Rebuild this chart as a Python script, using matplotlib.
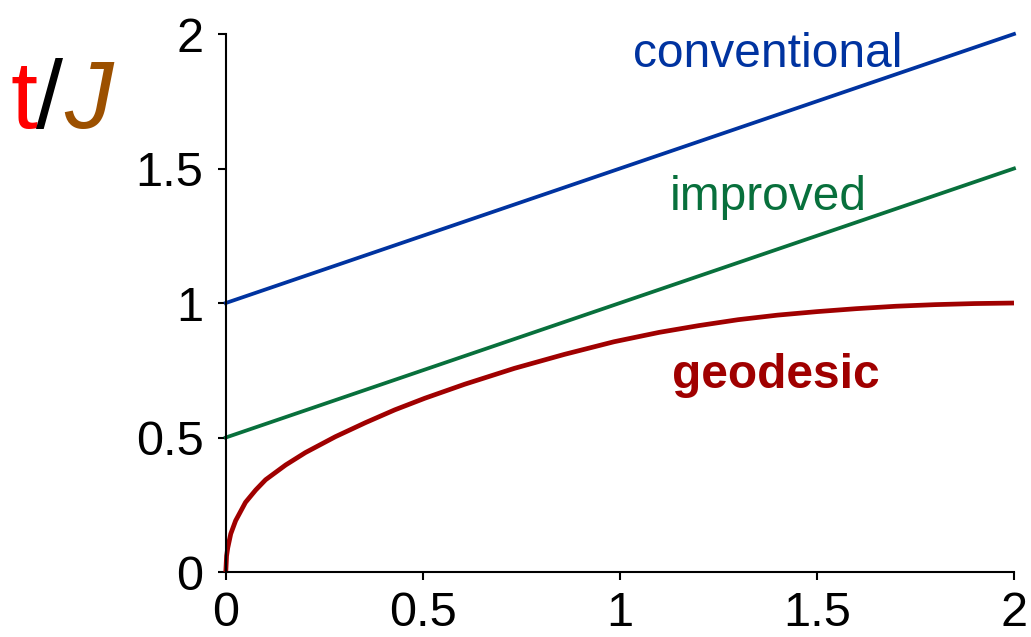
import matplotlib
matplotlib.use("Agg")
import matplotlib.pyplot as plt

plt.rcParams['font.family'] = ['Liberation Sans', 'DejaVu Sans']

# straight lines (read at the ends)
conv_x = [0, 2]
conv_y = [1.0, 2.0]
impr_x = [0, 2]
impr_y = [0.5, 1.5]

# geodesic curve
geo_x = [0, 0.002, 0.005, 0.0126, 0.025, 0.05, 0.076, 0.101, 0.152, 0.202,
         0.278, 0.354, 0.429, 0.505, 0.606, 0.732, 0.859, 0.985, 1.1, 1.2,
         1.3, 1.4, 1.5, 1.6, 1.7, 1.8, 1.9, 2.0]
geo_y = [0, 0.06, 0.09, 0.142, 0.191, 0.259, 0.305, 0.343, 0.398, 0.444,
         0.503, 0.555, 0.603, 0.646, 0.698, 0.757, 0.809, 0.856, 0.891, 0.916,
         0.938, 0.955, 0.968, 0.979, 0.988, 0.994, 0.998, 1.0]

ticks = [0, 0.5, 1, 1.5, 2]
tick_labels = ['0', '0.5', '1', '1.5', '2']

blue = '#0033a0'
green = '#08703c'
darkred = '#a00000'

fig = plt.figure(figsize=(10.31, 6.37), dpi=100)
ax = fig.add_axes([0.219, 0.102, 0.7645, 0.8446])

ax.plot(conv_x, conv_y, color=blue, lw=2.7, clip_on=False)
ax.plot(impr_x, impr_y, color=green, lw=2.7, clip_on=False)
ax.plot(geo_x, geo_y, color=darkred, lw=3.4, clip_on=False,
        solid_capstyle='butt', solid_joinstyle='round')

ax.set_xlim(0, 2)
ax.set_ylim(0, 2)
ax.set_xticks(ticks)
ax.set_xticklabels(tick_labels)
ax.set_yticks(ticks)
ax.set_yticklabels(tick_labels)

for side in ['top', 'right']:
    ax.spines[side].set_visible(False)
for side in ['left', 'bottom']:
    ax.spines[side].set_linewidth(1.5)
ax.tick_params(direction='out', length=6, width=1.5, labelsize=35, pad=10)
ax.tick_params(axis='x', pad=8)

ax.text(1.033, 1.879, 'conventional', color=blue, fontsize=34.5, va='baseline', ha='left')
ax.text(1.127, 1.347, 'improved', color=green, fontsize=34.5, va='baseline', ha='left')
ax.text(1.132, 0.685, 'geodesic', color=darkred, fontsize=34.5, fontweight='bold',
        va='baseline', ha='left')

# axis title t/J at top left
base = 1 - 128 / 637
fig.text(10 / 1031, base, 't', color='#ff0000', fontsize=70, va='baseline', ha='left')
fig.text(36 / 1031, base, '/', color='black', fontsize=70, va='baseline', ha='left')
fig.text(64 / 1031, base, 'J', color='#9c5000', fontsize=70, style='italic',
         va='baseline', ha='left')

fig.savefig('out.png', dpi=100)
